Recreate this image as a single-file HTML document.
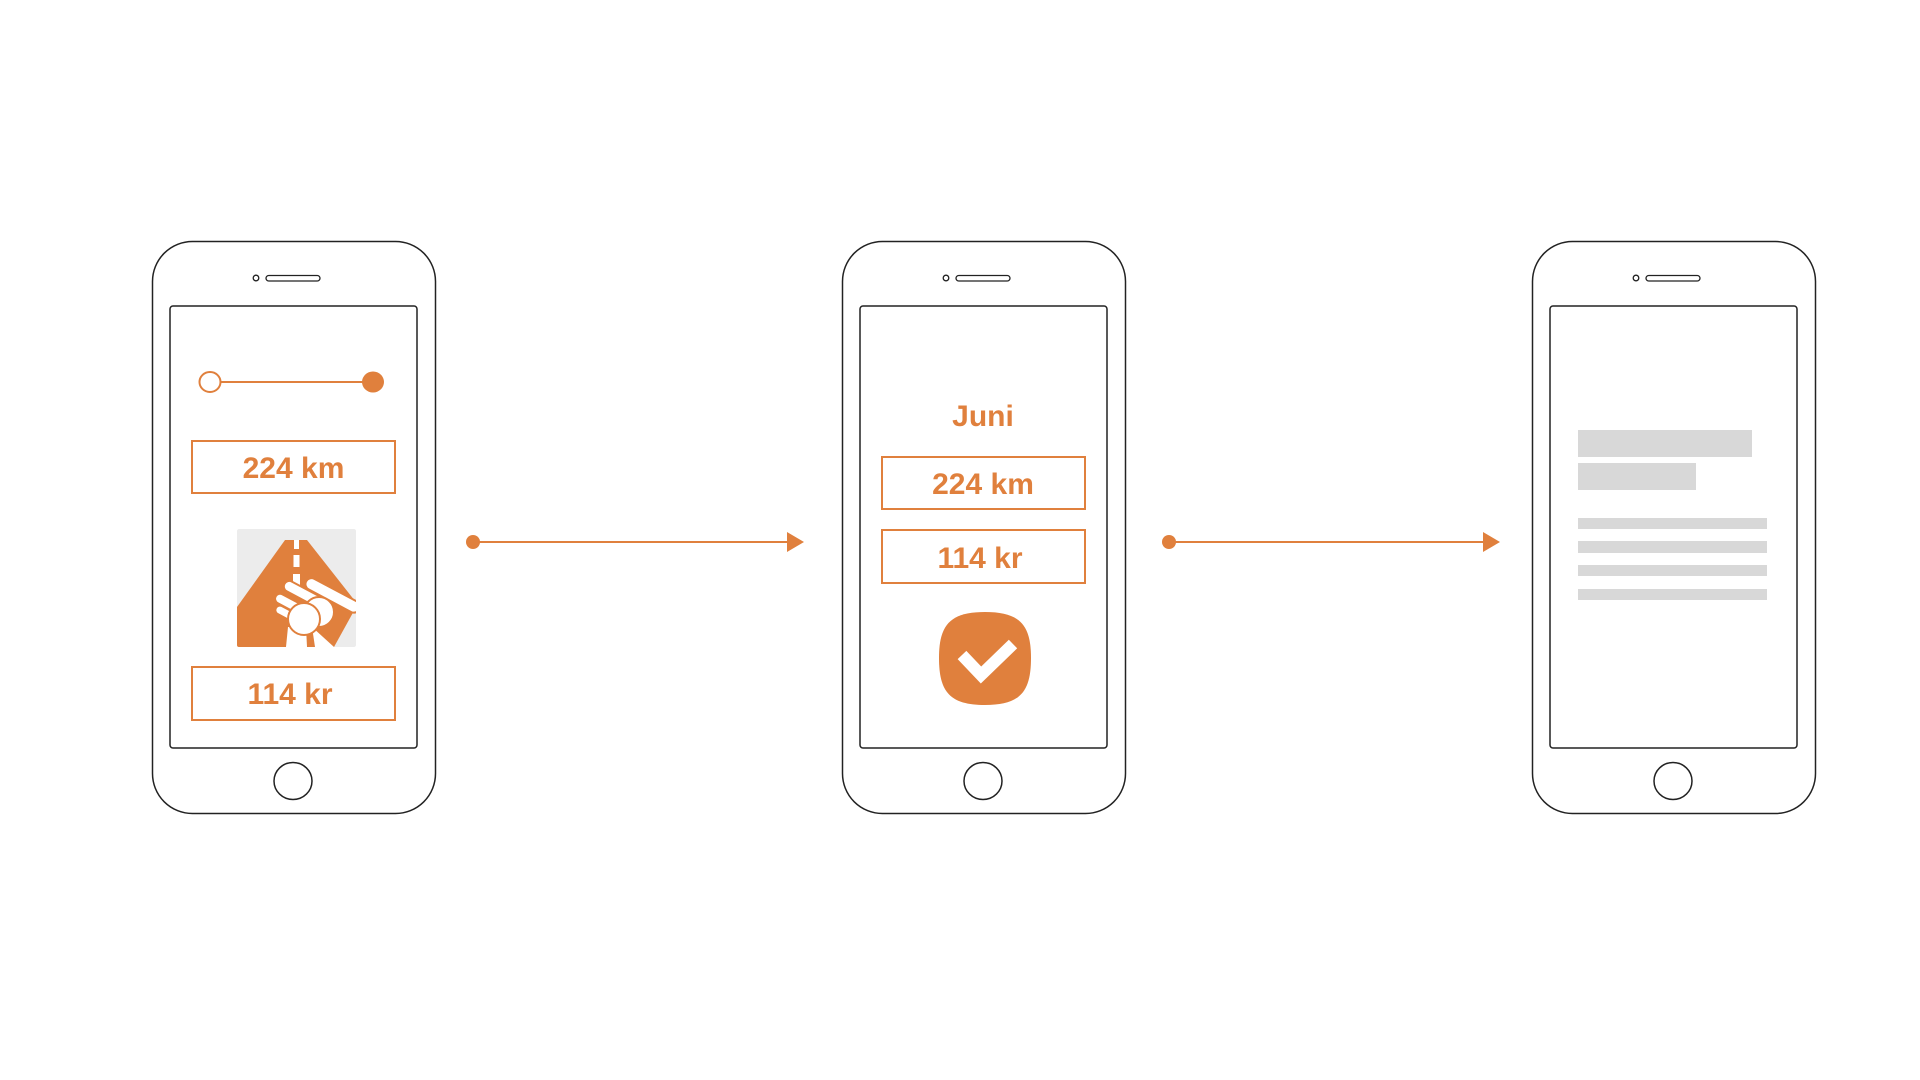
<!DOCTYPE html>
<html><head><meta charset="utf-8"><style>
body{margin:0;background:#fff;}
svg{display:block}
text{font-family:"Liberation Sans",sans-serif;font-weight:bold;fill:#e0803d}
</style></head><body>
<svg width="1920" height="1080" viewBox="0 0 1920 1080">
<defs>
<g id="phone">
<rect x="0.5" y="0.5" width="283" height="572" rx="40" fill="#fff" stroke="#222" stroke-width="1.5"/>
<rect x="18" y="65" width="247" height="442" rx="3" fill="#fff" stroke="#222" stroke-width="1.5"/>
<circle cx="104" cy="37" r="2.8" fill="none" stroke="#222" stroke-width="1.3"/>
<rect x="114" y="34.5" width="54" height="5.5" rx="2.75" fill="none" stroke="#222" stroke-width="1.3"/>
<ellipse cx="141" cy="540" rx="19" ry="18.5" fill="none" stroke="#222" stroke-width="1.5"/>
</g>
<clipPath id="ic"><rect x="0" y="0" width="119" height="118" rx="2"/></clipPath>
</defs>
<use href="#phone" x="152" y="241"/>
<use href="#phone" x="842" y="241"/>
<use href="#phone" x="1532" y="241"/>

<!-- phone 1 -->
<line x1="221" y1="382" x2="363" y2="382" stroke="#e0803d" stroke-width="2"/>
<ellipse cx="210" cy="382" rx="10.5" ry="10" fill="#fff" stroke="#e0803d" stroke-width="2"/>
<ellipse cx="373" cy="382" rx="11" ry="10.5" fill="#e0803d"/>
<rect x="192" y="441" width="203" height="52" fill="none" stroke="#e0803d" stroke-width="2"/>
<text x="293.5" y="478" font-size="30" text-anchor="middle">224 km</text>
<g transform="translate(237,529)" clip-path="url(#ic)">
<rect x="0" y="0" width="119" height="118" rx="2" fill="#ececec"/>
<polygon points="0,78 48,11 70,11 118,72 118,80 97,118 0,118" fill="#e0803d"/>
<rect x="57" y="11" width="5" height="9" fill="#fff"/>
<rect x="56.5" y="26" width="6" height="12" fill="#fff"/>
<rect x="56" y="45" width="7" height="14" fill="#fff"/>
<polygon points="51,98 69,98 70,118 49,118" fill="#fff"/>
<polygon points="75,98 97,118 78,118" fill="#fff"/>
<g stroke="#e0803d" stroke-width="2" fill="#fff">
<rect x="72" y="47" width="60" height="12" rx="6" transform="rotate(28 72 47)"/>
<rect x="50" y="50" width="46" height="11" rx="5.5" transform="rotate(28 50 50)"/>
<rect x="41" y="63" width="38" height="10" rx="5" transform="rotate(28 41 63)"/>
<rect x="41" y="75" width="28" height="9" rx="4.5" transform="rotate(28 41 75)"/>
<circle cx="82" cy="83" r="15"/>
<circle cx="67" cy="90" r="16"/>
</g>
</g>
<rect x="192" y="667" width="203" height="53" fill="none" stroke="#e0803d" stroke-width="2"/>
<text x="290" y="704" font-size="30" text-anchor="middle">114 kr</text>

<!-- arrow 1 -->
<circle cx="473" cy="542" r="7" fill="#e0803d"/>
<line x1="473" y1="542" x2="790" y2="542" stroke="#e0803d" stroke-width="2"/>
<polygon points="787,532 804,542 787,552" fill="#e0803d"/>

<!-- phone 2 -->
<text x="983" y="426" font-size="30" text-anchor="middle">Juni</text>
<rect x="882" y="457" width="203" height="52" fill="none" stroke="#e0803d" stroke-width="2"/>
<text x="983" y="494" font-size="30" text-anchor="middle">224 km</text>
<rect x="882" y="530" width="203" height="53" fill="none" stroke="#e0803d" stroke-width="2"/>
<text x="980" y="568" font-size="30" text-anchor="middle">114 kr</text>
<path d="M985,612 C1020,612 1031,625 1031,658 C1031,692 1020,705 985,705 C950,705 939,692 939,658 C939,625 950,612 985,612 Z" fill="#e0803d"/>
<polyline points="962,655 981,675 1013,644" fill="none" stroke="#fff" stroke-width="12"/>

<!-- arrow 2 -->
<circle cx="1169" cy="542" r="7" fill="#e0803d"/>
<line x1="1169" y1="542" x2="1486" y2="542" stroke="#e0803d" stroke-width="2"/>
<polygon points="1483,532 1500,542 1483,552" fill="#e0803d"/>

<!-- phone 3 -->
<rect x="1578" y="430" width="174" height="27" fill="#d8d8d8"/>
<rect x="1578" y="463" width="118" height="27" fill="#d8d8d8"/>
<rect x="1578" y="518" width="189" height="11" fill="#d8d8d8"/>
<rect x="1578" y="541" width="189" height="12" fill="#d8d8d8"/>
<rect x="1578" y="565" width="189" height="11" fill="#d8d8d8"/>
<rect x="1578" y="589" width="189" height="11" fill="#d8d8d8"/>
</svg>
</body></html>
